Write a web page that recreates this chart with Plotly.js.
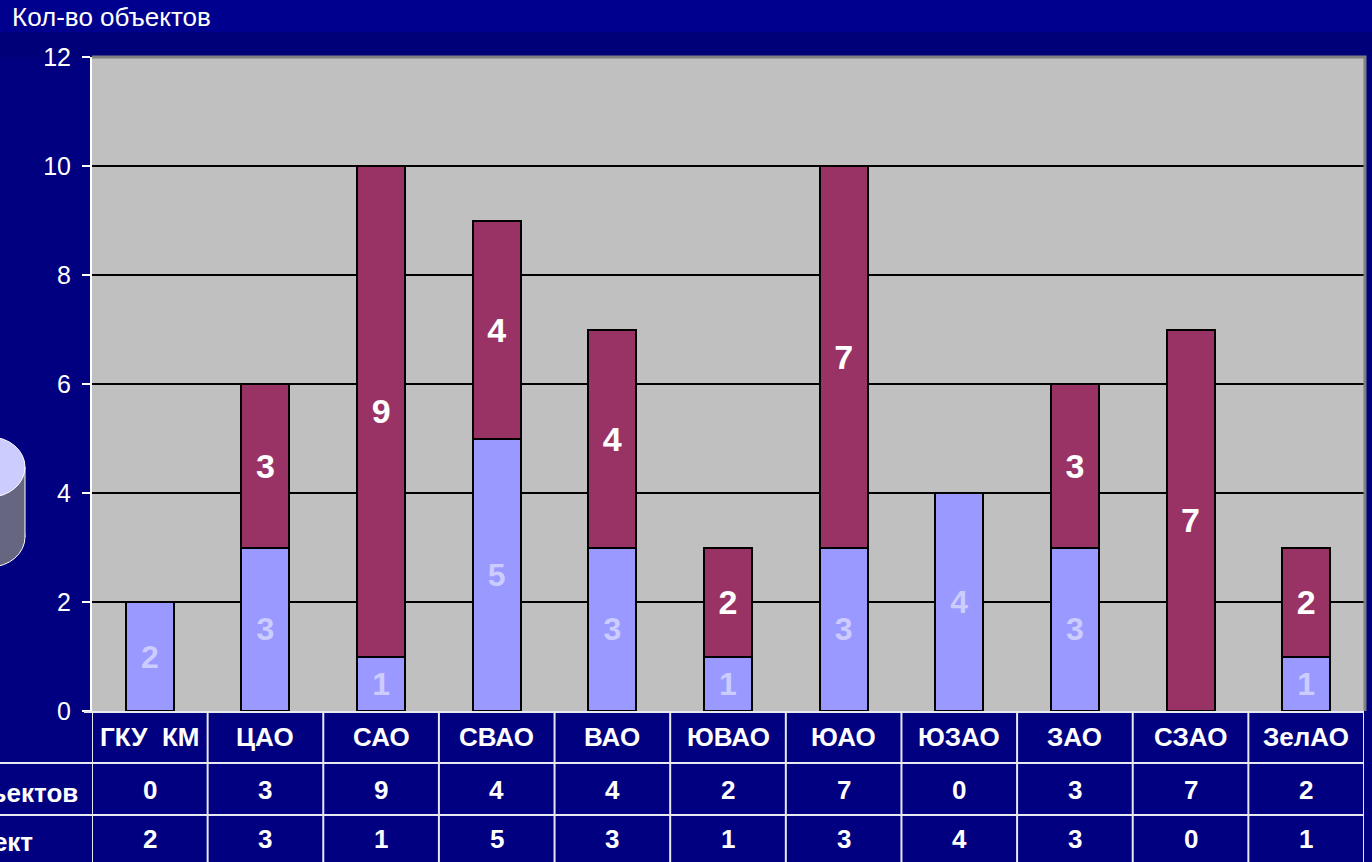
<!DOCTYPE html>
<html>
<head>
<meta charset="utf-8">
<script src="https://cdn.plot.ly/plotly-3.0.1.min.js"></script>
<style>html,body{margin:0;padding:0;background:#000080;overflow:hidden}#chart{width:1372px;height:862px}</style>
</head>
<body>
<div id="chart"></div>
<script>
// ---- data ----
const categories = ["ГКУ  КМ", "ЦАО", "САО", "СВАО", "ВАО", "ЮВАО", "ЮАО", "ЮЗАО", "ЗАО", "СЗАО", "ЗелАО"];
const seriesTopName = "Кол-во объектов";
const seriesTop = [0, 3, 9, 4, 4, 2, 7, 0, 3, 7, 2];
const seriesBottomName = "Объект";
const seriesBottom = [2, 3, 1, 5, 3, 1, 3, 4, 3, 0, 1];
const chartTitle = "Кол-во объектов";
const yTicks = [0, 2, 4, 6, 8, 10, 12];

// ---- geometry helpers (pixel -> paper) ----
const W = 1372, H = 862, L = 92, R = 1364, T = 57, B = 711;
const px = p => (p - L) / (R - L);
const py = p => (B - p) / (B - T);

const FONT = "Arial, 'Liberation Sans', sans-serif";
const lbl = v => v ? String(v) : "";

const traces = [
  {
    type: "bar", name: seriesBottomName, x: categories, y: seriesBottom,
    marker: {color: "#9999FF", line: {color: "#000000", width: 2}},
    text: seriesBottom.map(lbl), textposition: "inside", insidetextanchor: "middle",
    textangle: 0, constraintext: "none",
    textfont: {family: FONT, size: 32, color: "#CCCCFF", weight: "bold"},
    hoverinfo: "x+y+name"
  },
  {
    type: "bar", name: seriesTopName, x: categories, y: seriesTop,
    marker: {color: "#993366", line: {color: "#000000", width: 2}},
    text: seriesTop.map(lbl), textposition: "inside", insidetextanchor: "middle",
    textangle: 0, constraintext: "none",
    textfont: {family: FONT, size: 34, color: "#FFFFFF", weight: "bold"},
    hoverinfo: "x+y+name"
  }
];

const shapes = [];
const annotations = [];
const WHITE = "#E8E8F0";

// background bands
shapes.push({type: "rect", xref: "paper", yref: "paper", x0: px(0), x1: px(W), y0: py(32), y1: py(0), fillcolor: "#00008E", line: {width: 0}, layer: "below"});
shapes.push({type: "rect", xref: "paper", yref: "paper", x0: px(0), x1: px(W), y0: py(57), y1: py(32), fillcolor: "#000078", line: {width: 0}, layer: "below"});

// plot 3D border (top & right grey)
shapes.push({type: "path", xref: "paper", yref: "paper",
  path: `M ${px(L)} ${py(T)} L ${px(R + 1)} ${py(T)} L ${px(R + 1)} ${py(B)}`,
  line: {color: "#808080", width: 3}, layer: "above"});

// cylinder decoration on the left
shapes.push({type: "circle", xref: "paper", yref: "paper", x0: px(-45), x1: px(25), y0: py(567), y1: py(507), fillcolor: "#666680", line: {color: "#FFFFFF", width: 1}});
shapes.push({type: "rect", xref: "paper", yref: "paper", x0: px(-45), x1: px(25), y0: py(537), y1: py(467), fillcolor: "#666680", line: {width: 0}});
shapes.push({type: "line", xref: "paper", yref: "paper", x0: px(25), x1: px(25), y0: py(537), y1: py(467), line: {color: "#FFFFFF", width: 1}});
shapes.push({type: "circle", xref: "paper", yref: "paper", x0: px(-45), x1: px(25), y0: py(497), y1: py(437), fillcolor: "#CCCCFF", line: {color: "#FFFFFF", width: 1}});

// data table lines
shapes.push({type: "line", xref: "paper", yref: "paper", x0: px(84), x1: px(R), y0: py(712), y1: py(712), line: {color: WHITE, width: 2}});
shapes.push({type: "line", xref: "paper", yref: "paper", x0: px(0), x1: px(R), y0: py(763), y1: py(763), line: {color: WHITE, width: 2}});
shapes.push({type: "line", xref: "paper", yref: "paper", x0: px(0), x1: px(R), y0: py(815), y1: py(815), line: {color: WHITE, width: 2}});
for (let i = 0; i <= categories.length; i++) {
  shapes.push({type: "line", xref: "x", yref: "paper", x0: i - 0.5, x1: i - 0.5, y0: py(711), y1: py(870), line: {color: WHITE, width: 2}});
}

// table text
const rowCenters = [737, 790, 839];
const cellFont = {family: FONT, size: 26, color: "#FFFFFF", weight: "bold"};
categories.forEach((c, i) => {
  annotations.push({xref: "x", yref: "paper", x: i, y: py(rowCenters[0]), text: c, showarrow: false, xanchor: "center", yanchor: "middle", font: cellFont});
  annotations.push({xref: "x", yref: "paper", x: i, y: py(rowCenters[1]), text: String(seriesTop[i]), showarrow: false, xanchor: "center", yanchor: "middle", font: cellFont});
  annotations.push({xref: "x", yref: "paper", x: i, y: py(rowCenters[2]), text: String(seriesBottom[i]), showarrow: false, xanchor: "center", yanchor: "middle", font: cellFont});
});
// row labels (cut off at page edge, as in the reference)
annotations.push({xref: "paper", yref: "paper", x: px(80), y: py(793), text: seriesTopName, showarrow: false, xanchor: "right", yanchor: "middle", font: cellFont});
annotations.push({xref: "paper", yref: "paper", x: px(35), y: py(842), text: seriesBottomName, showarrow: false, xanchor: "right", yanchor: "middle", font: cellFont});

// title
annotations.push({xref: "paper", yref: "paper", x: px(10), y: py(17), text: chartTitle, showarrow: false, xanchor: "left", yanchor: "middle",
  font: {family: FONT, size: 26, color: "#FFFFFF"}});

const layout = {
  width: W, height: H,
  margin: {l: L, r: W - R, t: T, b: H - B, pad: 0},
  paper_bgcolor: "#000080",
  plot_bgcolor: "#C0C0C0",
  barmode: "stack",
  bargap: 0.585,
  showlegend: false,
  xaxis: {type: "category", range: [-0.5, categories.length - 0.5], showticklabels: false, ticks: "", showgrid: false, zeroline: false, showline: false, fixedrange: true},
  yaxis: {range: [0, 12], tickvals: yTicks, ticktext: yTicks.map(String), showgrid: true, gridcolor: "#000000", gridwidth: 1.5,
    zeroline: false, showline: true, linecolor: "#FFFFFF", linewidth: 2, ticks: "outside", ticklen: 8, tickwidth: 2, tickcolor: "#FFFFFF",
    ticklabelstandoff: 6, tickfont: {family: FONT, size: 25, color: "#FFFFFF"}, fixedrange: true},
  shapes: shapes,
  annotations: annotations,
  font: {family: FONT}
};

Plotly.newPlot("chart", traces, layout, {displayModeBar: false, staticPlot: true});
</script>
</body>
</html>
